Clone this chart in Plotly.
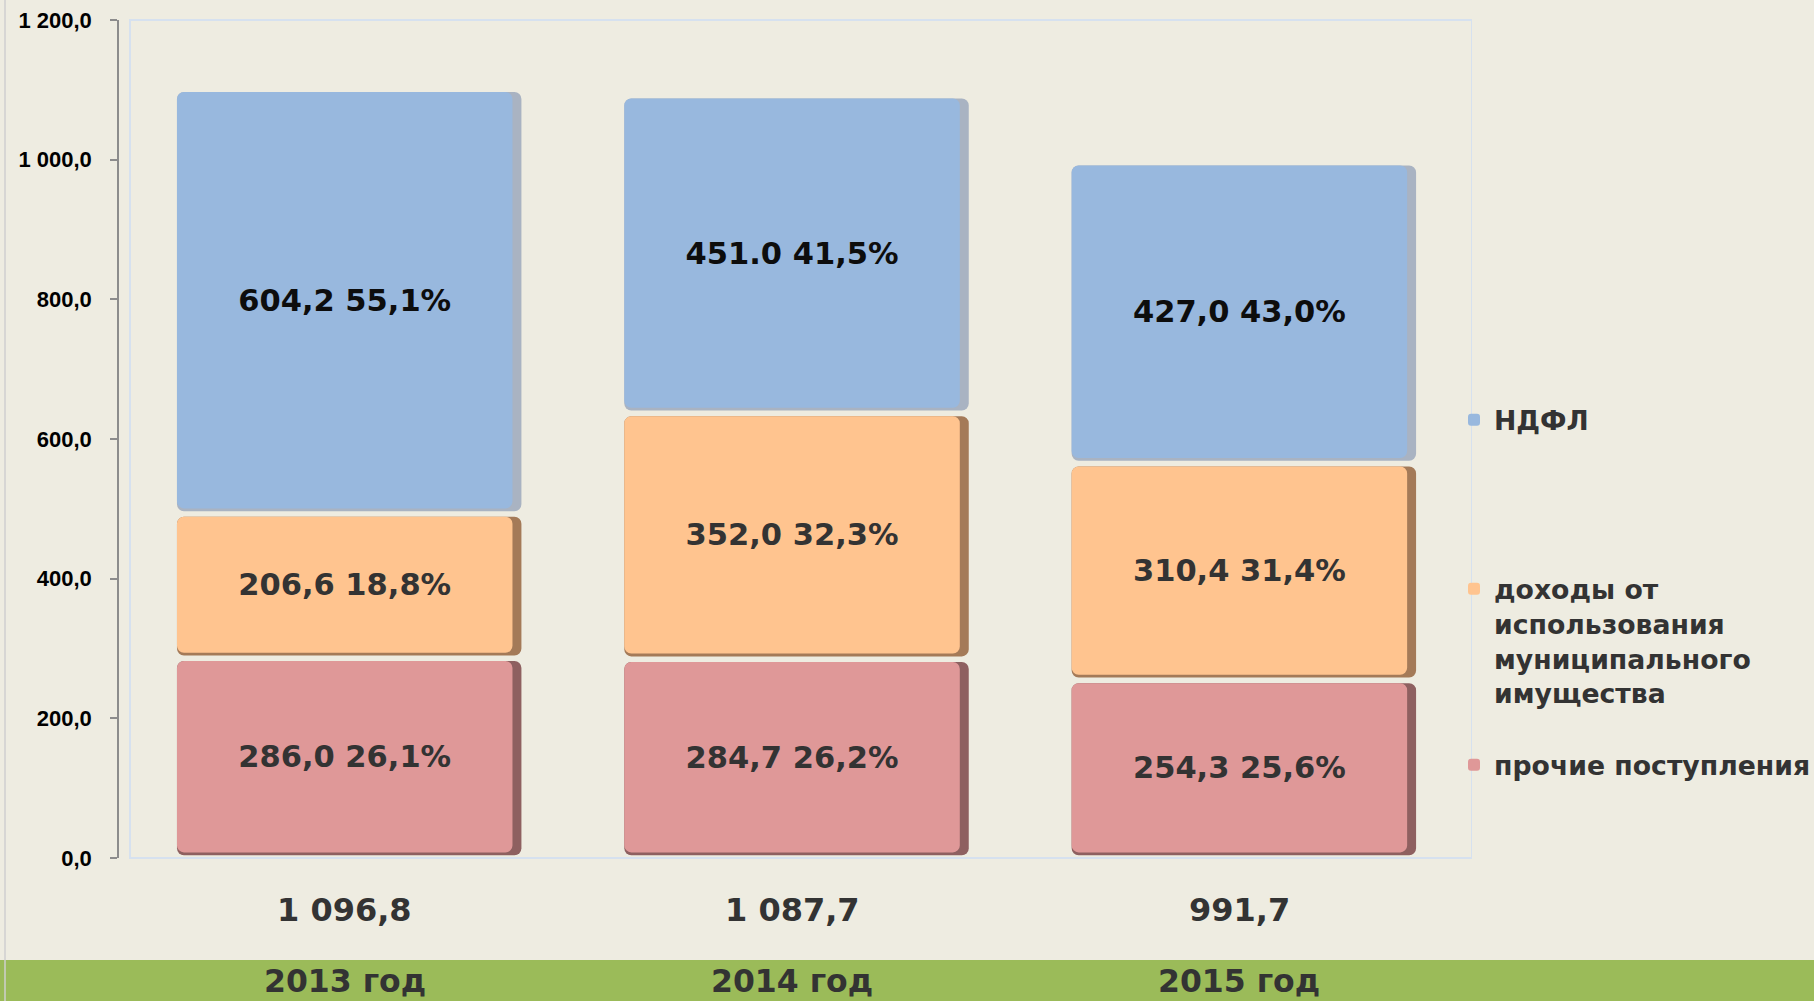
import plotly.graph_objects as go

# ---- data ----
categories = ["2013 год", "2014 год", "2015 год"]
series_names = ["прочие поступления",
                "доходы от<br>использования<br>муниципального<br>имущества",
                "НДФЛ"]
prochie = [286.0, 284.7, 254.3]
dohody = [206.6, 352.0, 310.4]
ndfl = [604.2, 451.0, 427.0]
prochie_labels = ["286,0 26,1%", "284,7 26,2%", "254,3 25,6%"]
dohody_labels = ["206,6 18,8%", "352,0 32,3%", "310,4 31,4%"]
ndfl_labels = ["604,2 55,1%", "451.0 41,5%", "427,0 43,0%"]
y_ticks = [0, 200, 400, 600, 800, 1000, 1200]

# ---- styling ----
BG = "#EEECE1"
FONT = "DejaVu Sans"
face_colors = ["#DF9898", "#FFC48F", "#98B8DE"]
side_colors = ["#8E6060", "#A47A58", "#A9B3C2"]
label_colors = ["#333333", "#333333", "#0D0D0D"]
legend_ids = ["legend3", "legend2", "legend"]

values = [prochie, dohody, ndfl]
labels = [prochie_labels, dohody_labels, ndfl_labels]

gap = 4.0     # data units trimmed at each segment end (visual separation)
edge = 4.0    # dark bottom edge thickness (data units)

fig = go.Figure()
bases = [0.0] * len(categories)
n_series = len(values)
for i, vals in enumerate(values):
    top_gap = gap if i < n_series - 1 else 0.0
    b_side = [b + gap for b in bases]
    h_side = [v - gap - top_gap for v in vals]
    b_face = [b + gap + edge for b in bases]
    h_face = [v - gap - top_gap - edge for v in vals]
    fig.add_trace(go.Bar(
        x=categories, y=h_side, base=b_side, width=0.77, offset=-0.395,
        marker=dict(color=side_colors[i], line=dict(width=0), cornerradius=7),
        showlegend=False, hoverinfo="skip"))
    fig.add_trace(go.Bar(
        x=categories, y=h_face, base=b_face, width=0.75, offset=-0.395,
        name=series_names[i], legend=legend_ids[i],
        marker=dict(color=face_colors[i], line=dict(width=0), cornerradius=7),
        text=labels[i], textposition="inside", insidetextanchor="middle",
        textangle=0, constraintext="none",
        textfont=dict(family=FONT, size=30.5, color=label_colors[i], weight="bold"),
        hoverinfo="skip"))
    bases = [b + v for b, v in zip(bases, vals)]

totals = [a + b + c for a, b, c in zip(prochie, dohody, ndfl)]


def fmt(v):
    s = f"{v:,.1f}"
    return s.replace(",", " ").replace(".", ",")


W, H = 1814, 1001
L, R, T, B = 119, 342, 20, 143
pw, ph = W - L - R, H - T - B


def px_x(p):
    return (p - L) / pw


def px_y(p):
    return (H - B - p) / ph


annotations = []
for c, t in zip(categories, totals):
    annotations.append(dict(x=c, xref="x", y=px_y(910), yref="paper",
                            text=fmt(t), showarrow=False, xshift=-9,
                            font=dict(family=FONT, size=32, color="#333333", weight="bold"),
                            xanchor="center", yanchor="middle"))
    annotations.append(dict(x=c, xref="x", y=px_y(981), yref="paper",
                            text=c, showarrow=False, xshift=-9,
                            font=dict(family=FONT, size=31.5, color="#333333", weight="bold"),
                            xanchor="center", yanchor="middle"))

shapes = [
    # green band
    dict(type="rect", xref="paper", yref="paper", x0=px_x(-20), x1=px_x(W + 20),
         y0=px_y(960), y1=px_y(H + 5), fillcolor="#9BBB59", line=dict(width=0),
         layer="below"),
    # plot-area frame
    dict(type="rect", xref="x", yref="paper", x0=-0.5, x1=2.5, y0=0, y1=1,
         line=dict(color="#D6E1EF", width=2), fillcolor="rgba(0,0,0,0)", layer="below"),
    # thin left border line
    dict(type="line", xref="paper", yref="paper", x0=px_x(5), x1=px_x(5),
         y0=px_y(H + 5), y1=px_y(-5), line=dict(color="#CFCFCF", width=1.5)),
]

leg_font = dict(family=FONT, size=26.7, color="#333333", weight="bold")
leg_common = dict(xanchor="left", yanchor="middle", bgcolor="rgba(0,0,0,0)",
                  font=leg_font, itemwidth=30, borderwidth=0)

LEG_X = 1454
fig.update_layout(
    width=W, height=H,
    margin=dict(l=L, r=R, t=T, b=B, pad=0, autoexpand=False),
    paper_bgcolor=BG, plot_bgcolor=BG,
    barmode="overlay",
    separators=", ",
    showlegend=True,
    legend=dict(x=px_x(LEG_X), y=px_y(420), **leg_common),
    legend2=dict(x=px_x(LEG_X), y=px_y(565), valign="top",
                 **{**leg_common, "yanchor": "top"}),
    legend3=dict(x=px_x(LEG_X), y=px_y(765), **leg_common),
    xaxis=dict(type="category", range=[-0.5 - 11 / 447.3, 2.5],
               showticklabels=False, showgrid=False, zeroline=False,
               showline=False, ticks=""),
    yaxis=dict(range=[0, 1200], tickvals=y_ticks, tickformat=",.1f",
               showgrid=False, zeroline=False, showline=True,
               linecolor="#8C8C8C", linewidth=1.5, ticks="outside",
               ticklen=7, tickcolor="#8C8C8C", tickwidth=1.5,
               ticklabelstandoff=14,
               tickfont=dict(family="Liberation Sans", size=22, color="#000000",
                             weight="bold")),
    annotations=annotations,
    shapes=shapes,
)

fig.write_html("out.html")
